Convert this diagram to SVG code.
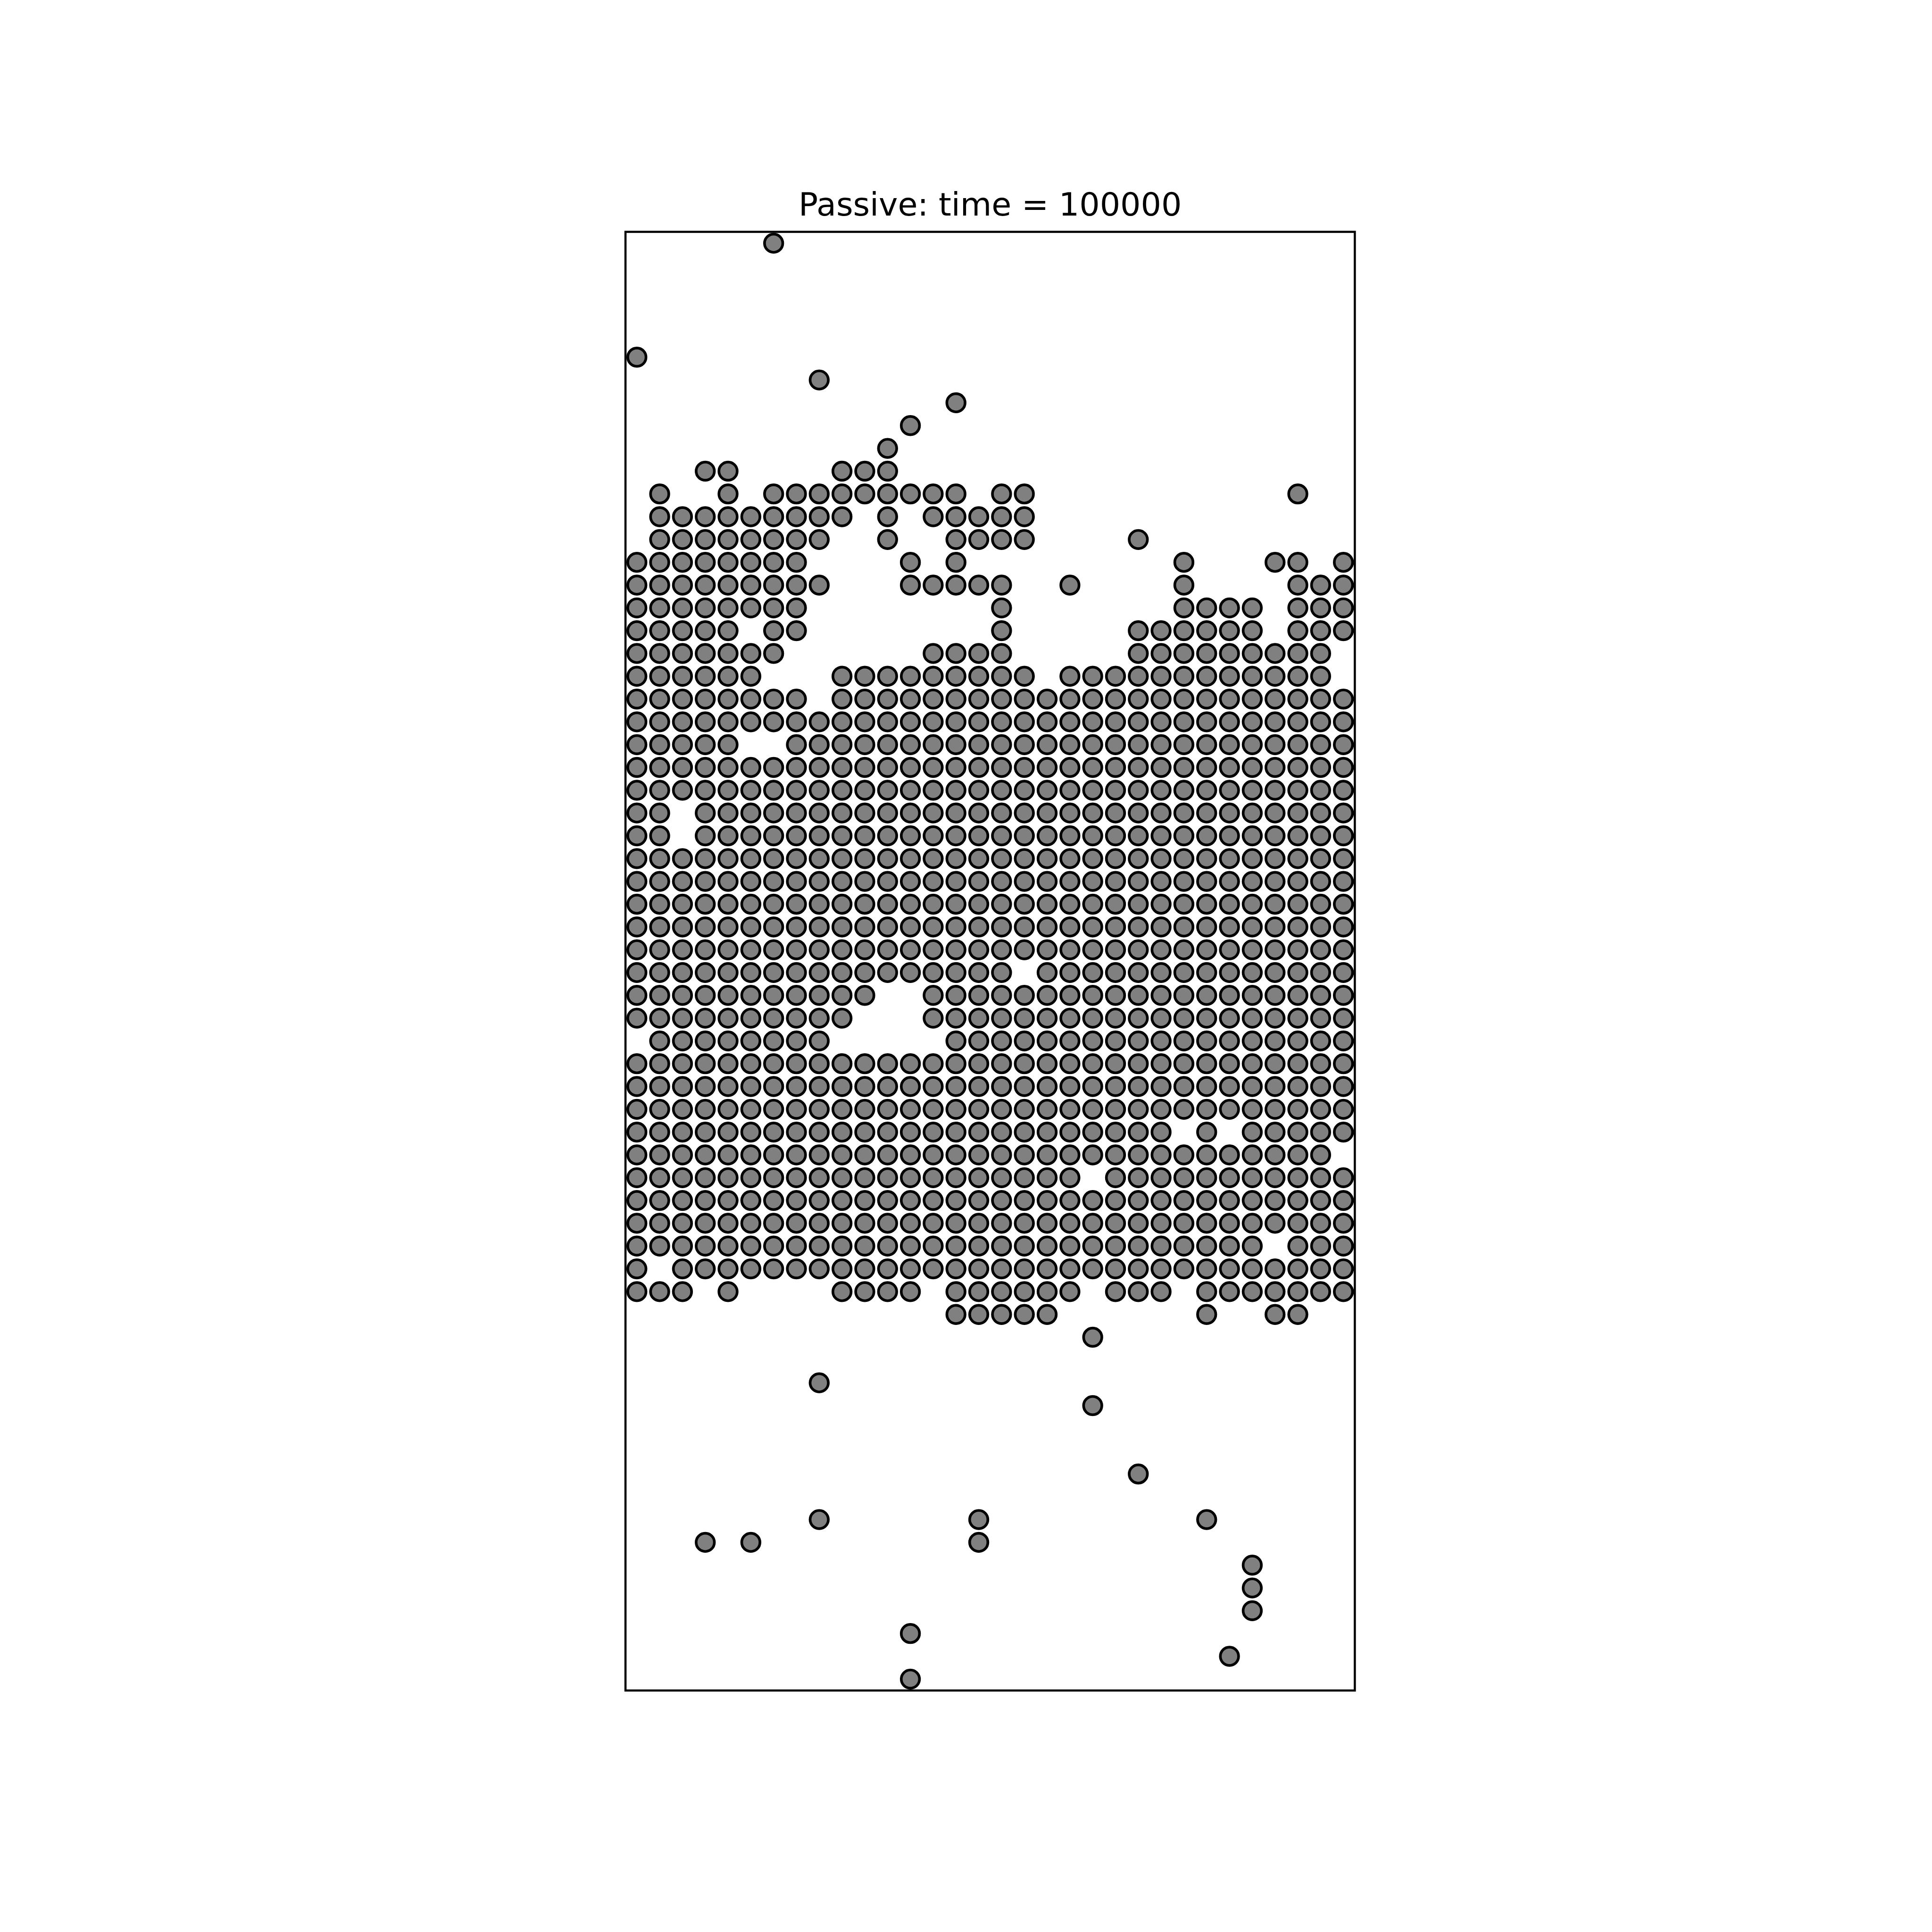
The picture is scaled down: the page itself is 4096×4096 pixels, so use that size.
<svg xmlns="http://www.w3.org/2000/svg" xmlns:xlink="http://www.w3.org/1999/xlink" width="4096" height="4096" viewBox="0 0 4096 4096">
<style>
.grid circle{fill:#808080;stroke:#000;stroke-width:0.1177}
.title{font-family:"DejaVu Sans","Liberation Sans",sans-serif;font-size:68.27px;fill:#000}
</style>
<defs>
<g id="full" class="grid"><circle cx="0" r=".4"/><circle cx="1" r=".4"/><circle cx="2" r=".4"/><circle cx="3" r=".4"/><circle cx="4" r=".4"/><circle cx="5" r=".4"/><circle cx="6" r=".4"/><circle cx="7" r=".4"/><circle cx="8" r=".4"/><circle cx="9" r=".4"/><circle cx="10" r=".4"/><circle cx="11" r=".4"/><circle cx="12" r=".4"/><circle cx="13" r=".4"/><circle cx="14" r=".4"/><circle cx="15" r=".4"/><circle cx="16" r=".4"/><circle cx="17" r=".4"/><circle cx="18" r=".4"/><circle cx="19" r=".4"/><circle cx="20" r=".4"/><circle cx="21" r=".4"/><circle cx="22" r=".4"/><circle cx="23" r=".4"/><circle cx="24" r=".4"/><circle cx="25" r=".4"/><circle cx="26" r=".4"/><circle cx="27" r=".4"/><circle cx="28" r=".4"/><circle cx="29" r=".4"/><circle cx="30" r=".4"/><circle cx="31" r=".4"/></g>
</defs>
<rect width="4096" height="4096" fill="#fff"/>
<text class="title" x="2099.2" y="457.4" text-anchor="middle">Passive: time = 100000</text>
<g id="particles" class="grid" transform="translate(1350.24 515.68) scale(48.32)">
<g transform="translate(0 0)"><circle cx="6" r=".4"/></g>
<g transform="translate(0 5)"><circle cx="0" r=".4"/></g>
<g transform="translate(0 6)"><circle cx="8" r=".4"/></g>
<g transform="translate(0 7)"><circle cx="14" r=".4"/></g>
<g transform="translate(0 8)"><circle cx="12" r=".4"/></g>
<g transform="translate(0 9)"><circle cx="11" r=".4"/></g>
<g transform="translate(0 10)"><circle cx="3" r=".4"/><circle cx="4" r=".4"/><circle cx="9" r=".4"/><circle cx="10" r=".4"/><circle cx="11" r=".4"/></g>
<g transform="translate(0 11)"><circle cx="1" r=".4"/><circle cx="4" r=".4"/><circle cx="6" r=".4"/><circle cx="7" r=".4"/><circle cx="8" r=".4"/><circle cx="9" r=".4"/><circle cx="10" r=".4"/><circle cx="11" r=".4"/><circle cx="12" r=".4"/><circle cx="13" r=".4"/><circle cx="14" r=".4"/><circle cx="16" r=".4"/><circle cx="17" r=".4"/><circle cx="29" r=".4"/></g>
<g transform="translate(0 12)"><circle cx="1" r=".4"/><circle cx="2" r=".4"/><circle cx="3" r=".4"/><circle cx="4" r=".4"/><circle cx="5" r=".4"/><circle cx="6" r=".4"/><circle cx="7" r=".4"/><circle cx="8" r=".4"/><circle cx="9" r=".4"/><circle cx="11" r=".4"/><circle cx="13" r=".4"/><circle cx="14" r=".4"/><circle cx="15" r=".4"/><circle cx="16" r=".4"/><circle cx="17" r=".4"/></g>
<g transform="translate(0 13)"><circle cx="1" r=".4"/><circle cx="2" r=".4"/><circle cx="3" r=".4"/><circle cx="4" r=".4"/><circle cx="5" r=".4"/><circle cx="6" r=".4"/><circle cx="7" r=".4"/><circle cx="8" r=".4"/><circle cx="11" r=".4"/><circle cx="14" r=".4"/><circle cx="15" r=".4"/><circle cx="16" r=".4"/><circle cx="17" r=".4"/><circle cx="22" r=".4"/></g>
<g transform="translate(0 14)"><circle cx="0" r=".4"/><circle cx="1" r=".4"/><circle cx="2" r=".4"/><circle cx="3" r=".4"/><circle cx="4" r=".4"/><circle cx="5" r=".4"/><circle cx="6" r=".4"/><circle cx="7" r=".4"/><circle cx="12" r=".4"/><circle cx="14" r=".4"/><circle cx="24" r=".4"/><circle cx="28" r=".4"/><circle cx="29" r=".4"/><circle cx="31" r=".4"/></g>
<g transform="translate(0 15)"><circle cx="0" r=".4"/><circle cx="1" r=".4"/><circle cx="2" r=".4"/><circle cx="3" r=".4"/><circle cx="4" r=".4"/><circle cx="5" r=".4"/><circle cx="6" r=".4"/><circle cx="7" r=".4"/><circle cx="8" r=".4"/><circle cx="12" r=".4"/><circle cx="13" r=".4"/><circle cx="14" r=".4"/><circle cx="15" r=".4"/><circle cx="16" r=".4"/><circle cx="19" r=".4"/><circle cx="24" r=".4"/><circle cx="29" r=".4"/><circle cx="30" r=".4"/><circle cx="31" r=".4"/></g>
<g transform="translate(0 16)"><circle cx="0" r=".4"/><circle cx="1" r=".4"/><circle cx="2" r=".4"/><circle cx="3" r=".4"/><circle cx="4" r=".4"/><circle cx="5" r=".4"/><circle cx="6" r=".4"/><circle cx="7" r=".4"/><circle cx="16" r=".4"/><circle cx="24" r=".4"/><circle cx="25" r=".4"/><circle cx="26" r=".4"/><circle cx="27" r=".4"/><circle cx="29" r=".4"/><circle cx="30" r=".4"/><circle cx="31" r=".4"/></g>
<g transform="translate(0 17)"><circle cx="0" r=".4"/><circle cx="1" r=".4"/><circle cx="2" r=".4"/><circle cx="3" r=".4"/><circle cx="4" r=".4"/><circle cx="6" r=".4"/><circle cx="7" r=".4"/><circle cx="16" r=".4"/><circle cx="22" r=".4"/><circle cx="23" r=".4"/><circle cx="24" r=".4"/><circle cx="25" r=".4"/><circle cx="26" r=".4"/><circle cx="27" r=".4"/><circle cx="29" r=".4"/><circle cx="30" r=".4"/><circle cx="31" r=".4"/></g>
<g transform="translate(0 18)"><circle cx="0" r=".4"/><circle cx="1" r=".4"/><circle cx="2" r=".4"/><circle cx="3" r=".4"/><circle cx="4" r=".4"/><circle cx="5" r=".4"/><circle cx="6" r=".4"/><circle cx="13" r=".4"/><circle cx="14" r=".4"/><circle cx="15" r=".4"/><circle cx="16" r=".4"/><circle cx="22" r=".4"/><circle cx="23" r=".4"/><circle cx="24" r=".4"/><circle cx="25" r=".4"/><circle cx="26" r=".4"/><circle cx="27" r=".4"/><circle cx="28" r=".4"/><circle cx="29" r=".4"/><circle cx="30" r=".4"/></g>
<g transform="translate(0 19)"><circle cx="0" r=".4"/><circle cx="1" r=".4"/><circle cx="2" r=".4"/><circle cx="3" r=".4"/><circle cx="4" r=".4"/><circle cx="5" r=".4"/><circle cx="9" r=".4"/><circle cx="10" r=".4"/><circle cx="11" r=".4"/><circle cx="12" r=".4"/><circle cx="13" r=".4"/><circle cx="14" r=".4"/><circle cx="15" r=".4"/><circle cx="16" r=".4"/><circle cx="17" r=".4"/><circle cx="19" r=".4"/><circle cx="20" r=".4"/><circle cx="21" r=".4"/><circle cx="22" r=".4"/><circle cx="23" r=".4"/><circle cx="24" r=".4"/><circle cx="25" r=".4"/><circle cx="26" r=".4"/><circle cx="27" r=".4"/><circle cx="28" r=".4"/><circle cx="29" r=".4"/><circle cx="30" r=".4"/></g>
<g transform="translate(0 20)"><circle cx="0" r=".4"/><circle cx="1" r=".4"/><circle cx="2" r=".4"/><circle cx="3" r=".4"/><circle cx="4" r=".4"/><circle cx="5" r=".4"/><circle cx="6" r=".4"/><circle cx="7" r=".4"/><circle cx="9" r=".4"/><circle cx="10" r=".4"/><circle cx="11" r=".4"/><circle cx="12" r=".4"/><circle cx="13" r=".4"/><circle cx="14" r=".4"/><circle cx="15" r=".4"/><circle cx="16" r=".4"/><circle cx="17" r=".4"/><circle cx="18" r=".4"/><circle cx="19" r=".4"/><circle cx="20" r=".4"/><circle cx="21" r=".4"/><circle cx="22" r=".4"/><circle cx="23" r=".4"/><circle cx="24" r=".4"/><circle cx="25" r=".4"/><circle cx="26" r=".4"/><circle cx="27" r=".4"/><circle cx="28" r=".4"/><circle cx="29" r=".4"/><circle cx="30" r=".4"/><circle cx="31" r=".4"/></g>
<use href="#full" xlink:href="#full" y="21"/>
<g transform="translate(0 22)"><circle cx="0" r=".4"/><circle cx="1" r=".4"/><circle cx="2" r=".4"/><circle cx="3" r=".4"/><circle cx="4" r=".4"/><circle cx="7" r=".4"/><circle cx="8" r=".4"/><circle cx="9" r=".4"/><circle cx="10" r=".4"/><circle cx="11" r=".4"/><circle cx="12" r=".4"/><circle cx="13" r=".4"/><circle cx="14" r=".4"/><circle cx="15" r=".4"/><circle cx="16" r=".4"/><circle cx="17" r=".4"/><circle cx="18" r=".4"/><circle cx="19" r=".4"/><circle cx="20" r=".4"/><circle cx="21" r=".4"/><circle cx="22" r=".4"/><circle cx="23" r=".4"/><circle cx="24" r=".4"/><circle cx="25" r=".4"/><circle cx="26" r=".4"/><circle cx="27" r=".4"/><circle cx="28" r=".4"/><circle cx="29" r=".4"/><circle cx="30" r=".4"/><circle cx="31" r=".4"/></g>
<use href="#full" xlink:href="#full" y="23"/>
<use href="#full" xlink:href="#full" y="24"/>
<g transform="translate(0 25)"><circle cx="0" r=".4"/><circle cx="1" r=".4"/><circle cx="3" r=".4"/><circle cx="4" r=".4"/><circle cx="5" r=".4"/><circle cx="6" r=".4"/><circle cx="7" r=".4"/><circle cx="8" r=".4"/><circle cx="9" r=".4"/><circle cx="10" r=".4"/><circle cx="11" r=".4"/><circle cx="12" r=".4"/><circle cx="13" r=".4"/><circle cx="14" r=".4"/><circle cx="15" r=".4"/><circle cx="16" r=".4"/><circle cx="17" r=".4"/><circle cx="18" r=".4"/><circle cx="19" r=".4"/><circle cx="20" r=".4"/><circle cx="21" r=".4"/><circle cx="22" r=".4"/><circle cx="23" r=".4"/><circle cx="24" r=".4"/><circle cx="25" r=".4"/><circle cx="26" r=".4"/><circle cx="27" r=".4"/><circle cx="28" r=".4"/><circle cx="29" r=".4"/><circle cx="30" r=".4"/><circle cx="31" r=".4"/></g>
<g transform="translate(0 26)"><circle cx="0" r=".4"/><circle cx="1" r=".4"/><circle cx="3" r=".4"/><circle cx="4" r=".4"/><circle cx="5" r=".4"/><circle cx="6" r=".4"/><circle cx="7" r=".4"/><circle cx="8" r=".4"/><circle cx="9" r=".4"/><circle cx="10" r=".4"/><circle cx="11" r=".4"/><circle cx="12" r=".4"/><circle cx="13" r=".4"/><circle cx="14" r=".4"/><circle cx="15" r=".4"/><circle cx="16" r=".4"/><circle cx="17" r=".4"/><circle cx="18" r=".4"/><circle cx="19" r=".4"/><circle cx="20" r=".4"/><circle cx="21" r=".4"/><circle cx="22" r=".4"/><circle cx="23" r=".4"/><circle cx="24" r=".4"/><circle cx="25" r=".4"/><circle cx="26" r=".4"/><circle cx="27" r=".4"/><circle cx="28" r=".4"/><circle cx="29" r=".4"/><circle cx="30" r=".4"/><circle cx="31" r=".4"/></g>
<use href="#full" xlink:href="#full" y="27"/>
<use href="#full" xlink:href="#full" y="28"/>
<use href="#full" xlink:href="#full" y="29"/>
<use href="#full" xlink:href="#full" y="30"/>
<use href="#full" xlink:href="#full" y="31"/>
<g transform="translate(0 32)"><circle cx="0" r=".4"/><circle cx="1" r=".4"/><circle cx="2" r=".4"/><circle cx="3" r=".4"/><circle cx="4" r=".4"/><circle cx="5" r=".4"/><circle cx="6" r=".4"/><circle cx="7" r=".4"/><circle cx="8" r=".4"/><circle cx="9" r=".4"/><circle cx="10" r=".4"/><circle cx="11" r=".4"/><circle cx="12" r=".4"/><circle cx="13" r=".4"/><circle cx="14" r=".4"/><circle cx="15" r=".4"/><circle cx="16" r=".4"/><circle cx="18" r=".4"/><circle cx="19" r=".4"/><circle cx="20" r=".4"/><circle cx="21" r=".4"/><circle cx="22" r=".4"/><circle cx="23" r=".4"/><circle cx="24" r=".4"/><circle cx="25" r=".4"/><circle cx="26" r=".4"/><circle cx="27" r=".4"/><circle cx="28" r=".4"/><circle cx="29" r=".4"/><circle cx="30" r=".4"/><circle cx="31" r=".4"/></g>
<g transform="translate(0 33)"><circle cx="0" r=".4"/><circle cx="1" r=".4"/><circle cx="2" r=".4"/><circle cx="3" r=".4"/><circle cx="4" r=".4"/><circle cx="5" r=".4"/><circle cx="6" r=".4"/><circle cx="7" r=".4"/><circle cx="8" r=".4"/><circle cx="9" r=".4"/><circle cx="10" r=".4"/><circle cx="13" r=".4"/><circle cx="14" r=".4"/><circle cx="15" r=".4"/><circle cx="16" r=".4"/><circle cx="17" r=".4"/><circle cx="18" r=".4"/><circle cx="19" r=".4"/><circle cx="20" r=".4"/><circle cx="21" r=".4"/><circle cx="22" r=".4"/><circle cx="23" r=".4"/><circle cx="24" r=".4"/><circle cx="25" r=".4"/><circle cx="26" r=".4"/><circle cx="27" r=".4"/><circle cx="28" r=".4"/><circle cx="29" r=".4"/><circle cx="30" r=".4"/><circle cx="31" r=".4"/></g>
<g transform="translate(0 34)"><circle cx="0" r=".4"/><circle cx="1" r=".4"/><circle cx="2" r=".4"/><circle cx="3" r=".4"/><circle cx="4" r=".4"/><circle cx="5" r=".4"/><circle cx="6" r=".4"/><circle cx="7" r=".4"/><circle cx="8" r=".4"/><circle cx="9" r=".4"/><circle cx="13" r=".4"/><circle cx="14" r=".4"/><circle cx="15" r=".4"/><circle cx="16" r=".4"/><circle cx="17" r=".4"/><circle cx="18" r=".4"/><circle cx="19" r=".4"/><circle cx="20" r=".4"/><circle cx="21" r=".4"/><circle cx="22" r=".4"/><circle cx="23" r=".4"/><circle cx="24" r=".4"/><circle cx="25" r=".4"/><circle cx="26" r=".4"/><circle cx="27" r=".4"/><circle cx="28" r=".4"/><circle cx="29" r=".4"/><circle cx="30" r=".4"/><circle cx="31" r=".4"/></g>
<g transform="translate(0 35)"><circle cx="1" r=".4"/><circle cx="2" r=".4"/><circle cx="3" r=".4"/><circle cx="4" r=".4"/><circle cx="5" r=".4"/><circle cx="6" r=".4"/><circle cx="7" r=".4"/><circle cx="8" r=".4"/><circle cx="14" r=".4"/><circle cx="15" r=".4"/><circle cx="16" r=".4"/><circle cx="17" r=".4"/><circle cx="18" r=".4"/><circle cx="19" r=".4"/><circle cx="20" r=".4"/><circle cx="21" r=".4"/><circle cx="22" r=".4"/><circle cx="23" r=".4"/><circle cx="24" r=".4"/><circle cx="25" r=".4"/><circle cx="26" r=".4"/><circle cx="27" r=".4"/><circle cx="28" r=".4"/><circle cx="29" r=".4"/><circle cx="30" r=".4"/><circle cx="31" r=".4"/></g>
<use href="#full" xlink:href="#full" y="36"/>
<use href="#full" xlink:href="#full" y="37"/>
<use href="#full" xlink:href="#full" y="38"/>
<g transform="translate(0 39)"><circle cx="0" r=".4"/><circle cx="1" r=".4"/><circle cx="2" r=".4"/><circle cx="3" r=".4"/><circle cx="4" r=".4"/><circle cx="5" r=".4"/><circle cx="6" r=".4"/><circle cx="7" r=".4"/><circle cx="8" r=".4"/><circle cx="9" r=".4"/><circle cx="10" r=".4"/><circle cx="11" r=".4"/><circle cx="12" r=".4"/><circle cx="13" r=".4"/><circle cx="14" r=".4"/><circle cx="15" r=".4"/><circle cx="16" r=".4"/><circle cx="17" r=".4"/><circle cx="18" r=".4"/><circle cx="19" r=".4"/><circle cx="20" r=".4"/><circle cx="21" r=".4"/><circle cx="22" r=".4"/><circle cx="23" r=".4"/><circle cx="25" r=".4"/><circle cx="27" r=".4"/><circle cx="28" r=".4"/><circle cx="29" r=".4"/><circle cx="30" r=".4"/><circle cx="31" r=".4"/></g>
<g transform="translate(0 40)"><circle cx="0" r=".4"/><circle cx="1" r=".4"/><circle cx="2" r=".4"/><circle cx="3" r=".4"/><circle cx="4" r=".4"/><circle cx="5" r=".4"/><circle cx="6" r=".4"/><circle cx="7" r=".4"/><circle cx="8" r=".4"/><circle cx="9" r=".4"/><circle cx="10" r=".4"/><circle cx="11" r=".4"/><circle cx="12" r=".4"/><circle cx="13" r=".4"/><circle cx="14" r=".4"/><circle cx="15" r=".4"/><circle cx="16" r=".4"/><circle cx="17" r=".4"/><circle cx="18" r=".4"/><circle cx="19" r=".4"/><circle cx="20" r=".4"/><circle cx="21" r=".4"/><circle cx="22" r=".4"/><circle cx="23" r=".4"/><circle cx="24" r=".4"/><circle cx="25" r=".4"/><circle cx="26" r=".4"/><circle cx="27" r=".4"/><circle cx="28" r=".4"/><circle cx="29" r=".4"/><circle cx="30" r=".4"/></g>
<g transform="translate(0 41)"><circle cx="0" r=".4"/><circle cx="1" r=".4"/><circle cx="2" r=".4"/><circle cx="3" r=".4"/><circle cx="4" r=".4"/><circle cx="5" r=".4"/><circle cx="6" r=".4"/><circle cx="7" r=".4"/><circle cx="8" r=".4"/><circle cx="9" r=".4"/><circle cx="10" r=".4"/><circle cx="11" r=".4"/><circle cx="12" r=".4"/><circle cx="13" r=".4"/><circle cx="14" r=".4"/><circle cx="15" r=".4"/><circle cx="16" r=".4"/><circle cx="17" r=".4"/><circle cx="18" r=".4"/><circle cx="19" r=".4"/><circle cx="21" r=".4"/><circle cx="22" r=".4"/><circle cx="23" r=".4"/><circle cx="24" r=".4"/><circle cx="25" r=".4"/><circle cx="26" r=".4"/><circle cx="27" r=".4"/><circle cx="28" r=".4"/><circle cx="29" r=".4"/><circle cx="30" r=".4"/><circle cx="31" r=".4"/></g>
<use href="#full" xlink:href="#full" y="42"/>
<use href="#full" xlink:href="#full" y="43"/>
<g transform="translate(0 44)"><circle cx="0" r=".4"/><circle cx="1" r=".4"/><circle cx="2" r=".4"/><circle cx="3" r=".4"/><circle cx="4" r=".4"/><circle cx="5" r=".4"/><circle cx="6" r=".4"/><circle cx="7" r=".4"/><circle cx="8" r=".4"/><circle cx="9" r=".4"/><circle cx="10" r=".4"/><circle cx="11" r=".4"/><circle cx="12" r=".4"/><circle cx="13" r=".4"/><circle cx="14" r=".4"/><circle cx="15" r=".4"/><circle cx="16" r=".4"/><circle cx="17" r=".4"/><circle cx="18" r=".4"/><circle cx="19" r=".4"/><circle cx="20" r=".4"/><circle cx="21" r=".4"/><circle cx="22" r=".4"/><circle cx="23" r=".4"/><circle cx="24" r=".4"/><circle cx="25" r=".4"/><circle cx="26" r=".4"/><circle cx="27" r=".4"/><circle cx="29" r=".4"/><circle cx="30" r=".4"/><circle cx="31" r=".4"/></g>
<g transform="translate(0 45)"><circle cx="0" r=".4"/><circle cx="2" r=".4"/><circle cx="3" r=".4"/><circle cx="4" r=".4"/><circle cx="5" r=".4"/><circle cx="6" r=".4"/><circle cx="7" r=".4"/><circle cx="8" r=".4"/><circle cx="9" r=".4"/><circle cx="10" r=".4"/><circle cx="11" r=".4"/><circle cx="12" r=".4"/><circle cx="13" r=".4"/><circle cx="14" r=".4"/><circle cx="15" r=".4"/><circle cx="16" r=".4"/><circle cx="17" r=".4"/><circle cx="18" r=".4"/><circle cx="19" r=".4"/><circle cx="20" r=".4"/><circle cx="21" r=".4"/><circle cx="22" r=".4"/><circle cx="23" r=".4"/><circle cx="24" r=".4"/><circle cx="25" r=".4"/><circle cx="26" r=".4"/><circle cx="27" r=".4"/><circle cx="28" r=".4"/><circle cx="29" r=".4"/><circle cx="30" r=".4"/><circle cx="31" r=".4"/></g>
<g transform="translate(0 46)"><circle cx="0" r=".4"/><circle cx="1" r=".4"/><circle cx="2" r=".4"/><circle cx="4" r=".4"/><circle cx="9" r=".4"/><circle cx="10" r=".4"/><circle cx="11" r=".4"/><circle cx="12" r=".4"/><circle cx="14" r=".4"/><circle cx="15" r=".4"/><circle cx="16" r=".4"/><circle cx="17" r=".4"/><circle cx="18" r=".4"/><circle cx="19" r=".4"/><circle cx="21" r=".4"/><circle cx="22" r=".4"/><circle cx="23" r=".4"/><circle cx="25" r=".4"/><circle cx="26" r=".4"/><circle cx="27" r=".4"/><circle cx="28" r=".4"/><circle cx="29" r=".4"/><circle cx="30" r=".4"/><circle cx="31" r=".4"/></g>
<g transform="translate(0 47)"><circle cx="14" r=".4"/><circle cx="15" r=".4"/><circle cx="16" r=".4"/><circle cx="17" r=".4"/><circle cx="18" r=".4"/><circle cx="25" r=".4"/><circle cx="28" r=".4"/><circle cx="29" r=".4"/></g>
<g transform="translate(0 48)"><circle cx="20" r=".4"/></g>
<g transform="translate(0 50)"><circle cx="8" r=".4"/></g>
<g transform="translate(0 51)"><circle cx="20" r=".4"/></g>
<g transform="translate(0 54)"><circle cx="22" r=".4"/></g>
<g transform="translate(0 56)"><circle cx="8" r=".4"/><circle cx="15" r=".4"/><circle cx="25" r=".4"/></g>
<g transform="translate(0 57)"><circle cx="3" r=".4"/><circle cx="5" r=".4"/><circle cx="15" r=".4"/></g>
<g transform="translate(0 58)"><circle cx="27" r=".4"/></g>
<g transform="translate(0 59)"><circle cx="27" r=".4"/></g>
<g transform="translate(0 60)"><circle cx="27" r=".4"/></g>
<g transform="translate(0 61)"><circle cx="12" r=".4"/></g>
<g transform="translate(0 62)"><circle cx="26" r=".4"/></g>
<g transform="translate(0 63)"><circle cx="12" r=".4"/></g>
</g>
<rect id="frame" x="1326.08" y="491.52" width="1546.24" height="3092.48" fill="none" stroke="#000" stroke-width="4.55"/>
</svg>
